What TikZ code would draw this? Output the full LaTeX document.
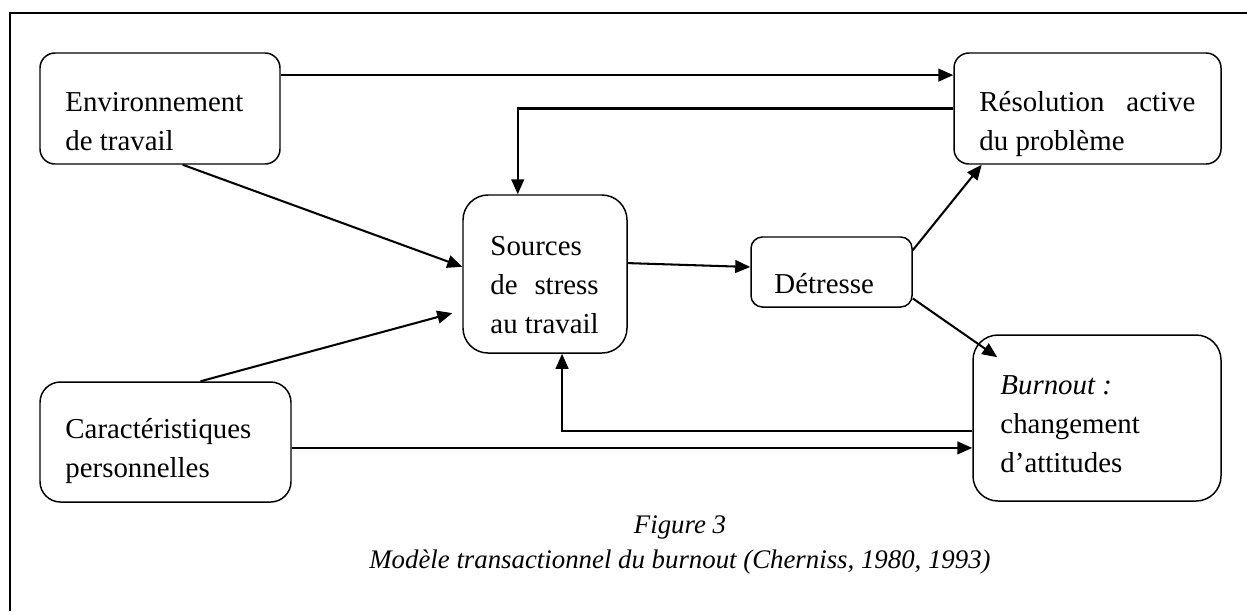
\documentclass[tikz,border=0pt]{standalone}
\usepackage{fontspec}
\setmainfont{Liberation Serif}
\usetikzlibrary{arrows.meta,fit}

\tikzset{
  bloc/.style={draw,line width=0.65pt,inner sep=0pt},
  texte/.style={align=left,inner sep=0pt,anchor=base west,font=\fontsize{12.7}{17}\selectfont},
  fleche/.style={line width=0.9pt,-{Triangle[length=6.6pt,width=5.6pt]}}
}

\begin{document}
\begin{tikzpicture}[x=0.44pt,y=-0.44pt]
\useasboundingbox (0,0) rectangle (1247,611);
% cadre
\draw[line width=1.1pt] (10,611) -- (10,13) -- (1247,13);

% boites
\node[bloc,rounded corners=6.6pt,fit={(40,53)(280,164)}] (env) {};
\node[bloc,rounded corners=6.6pt,fit={(954,53)(1221,164)}] (res) {};
\node[bloc,rounded corners=11pt,fit={(463,195)(627,353)}] (src) {};
\node[bloc,rounded corners=5pt,fit={(751,237)(912,307)}] (det) {};
\node[bloc,rounded corners=11pt,fit={(973,335)(1221,501)}] (bur) {};
\node[bloc,rounded corners=9pt,fit={(40,382)(291,502)}] (car) {};

% textes (ancre sur la derniere ligne)
\node[texte] (envtxt) at (65,150) {Environnement\\de travail};
\node[texte] (restxt) at (979,150) {\hbox to 95pt{Résolution\hfill active}\\du problème};
\node[texte] (srctxt) at (490,333) {Sources\\\hbox to 47.6pt{de\hfill stress}\\au travail};
\node[texte] (dettxt) at (774,293) {Détresse};
\node[texte] (burtxt) at (1000,472) {\textit{Burnout :}\\changement\\d’attitudes};
\node[texte] (cartxt) at (65,477) {Caractéristiques\\personnelles};

% fleches
\draw[fleche] ([yshift=14.7pt]env.east) -- ([yshift=14.7pt]env.east -| res.west);
\draw[fleche] (res.west) -| ([xshift=-12pt]src.north);
\draw[fleche] (env.-68) -- (src.175);
\draw[fleche] (car.60) -- ([xshift=-4.4pt,yshift=-17.2pt]src.west);
\draw[fleche] ([yshift=4.8pt]src.east) -- ([yshift=2.2pt]det.west);
\draw[fleche] (det.15) -- (res.-152);
\draw[fleche] (det.-18) -- ([xshift=11pt,yshift=-10.1pt]bur.north west);
\draw[fleche] ([yshift=-5.7pt]bur.west) -| ([xshift=7.5pt]src.south);
\draw[fleche] ([yshift=-2.6pt]car.east) -- ([yshift=-2.6pt]car.east -| bur.west);

% legende
\node[align=center,anchor=base,inner sep=0pt,font=\itshape\fontsize{11.8}{15.4}\selectfont] (legende) at (680,568)
  {Figure 3\\Modèle transactionnel du burnout (Cherniss, 1980, 1993)};
\end{tikzpicture}
\end{document}
